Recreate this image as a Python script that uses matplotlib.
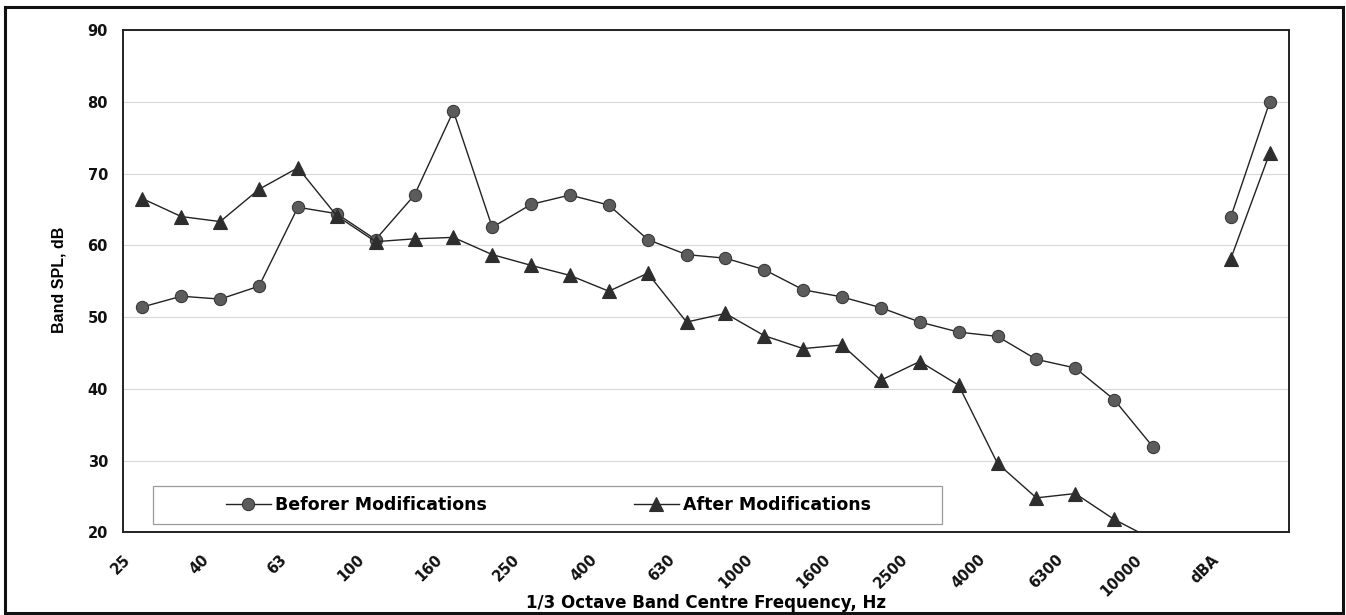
import numpy as np
import matplotlib
matplotlib.use("Agg")
import matplotlib.pyplot as plt
from matplotlib.patches import Rectangle
from matplotlib.transforms import ScaledTranslation

# ---- data ----
categories = ['25', '31.5', '40', '50', '63', '80', '100', '125', '160', '200',
              '250', '315', '400', '500', '630', '800', '1000', '1250', '1600', '2000',
              '2500', '3150', '4000', '5000', '6300', '8000', '10000', '12500', 'dBA', 'dBLin']
before = [51.4, 52.9, 52.5, 54.3, 65.3, 64.4, 60.8, 67.0, 78.7, 62.5,
          65.7, 67.0, 65.6, 60.8, 58.7, 58.2, 56.6, 53.8, 52.8, 51.3,
          49.3, 47.9, 47.3, 44.1, 42.9, 38.5, 31.9, np.nan, 63.9, 79.9]
after = [66.5, 64.0, 63.3, 67.8, 70.8, 64.1, 60.5, 60.9, 61.1, 58.7,
         57.2, 55.8, 53.6, 56.1, 49.3, 50.5, 47.4, 45.6, 46.1, 41.2,
         43.8, 40.5, 29.6, 24.8, 25.4, 21.8, 19.0, np.nan, 58.1, 72.8]
series_names = ['Beforer Modifications', 'After Modifications']
y_ticks = [20, 30, 40, 50, 60, 70, 80, 90]

W, H = 1346, 615
fig = plt.figure(figsize=(W / 100, H / 100), dpi=100)
fig.patch.set_facecolor('white')
ax = fig.add_axes([123 / W, 1 - 532.3 / H, 1166 / W, 502.3 / H])

x = np.arange(len(categories))
ax.plot(x, before, color='#222222', lw=1.0, marker='o', markersize=8.8,
        markerfacecolor='#5c5c5c', markeredgecolor='#3a3a3a', markeredgewidth=0.8,
        label=series_names[0], zorder=3)
ax.plot(x, after, color='#222222', lw=1.0, marker='^', markersize=9.5,
        markerfacecolor='#2e2e2e', markeredgecolor='#2e2e2e', markeredgewidth=0.8,
        label=series_names[1], zorder=3)

ax.set_xlim(-0.5, len(categories) - 0.5)
ax.set_ylim(20, 90)
ax.set_yticks(y_ticks)
ax.set_yticklabels([str(v) for v in y_ticks], fontfamily='DejaVu Sans',
                   fontweight='bold', fontsize=10.5)
ax.tick_params(axis='y', length=0, pad=10.8, colors='#111111')

ax.set_xticks(x[::2])
ax.set_xticklabels(categories[::2], fontfamily='DejaVu Sans', fontweight='bold',
                   fontsize=10.5, rotation=45)
ax.tick_params(axis='x', length=0, pad=18, colors='#111111')
offset = ScaledTranslation(-14 / 100, 0, fig.dpi_scale_trans)
for lab in ax.get_xticklabels():
    lab.set_rotation_mode('anchor')
    lab.set_ha('right')
    lab.set_va('center')
    lab.set_transform(lab.get_transform() + offset)

ax.yaxis.grid(True, color='#d8d8d8', lw=0.8)
ax.set_axisbelow(True)
for s in ax.spines.values():
    s.set_linewidth(1.4)
    s.set_color('#222222')

ax.set_ylabel('Band SPL, dB', fontfamily='Liberation Sans', fontweight='bold',
              fontsize=11.5)
ax.yaxis.set_label_coords((66.7 - 123) / 1166, 0.502)
ax.set_xlabel('1/3 Octave Band Centre Frequency, Hz', fontfamily='DejaVu Sans',
              fontweight='bold', fontsize=12)
ax.xaxis.set_label_coords(0.5, (532.3 - 594) / 502.3)

# legend
fs = 12.5
leg = ax.legend(loc='center', bbox_to_anchor=((548.5 - 123) / 1166, (532.3 - 505) / 502.3),
                ncol=2, frameon=False, borderpad=0,
                prop={'family': 'DejaVu Sans', 'weight': 'bold', 'size': fs},
                handlelength=2.6, handletextpad=0.25, columnspacing=8.45)
ax.add_patch(Rectangle(((153 - 123) / 1166, (532.3 - 524) / 502.3),
                       (942 - 153) / 1166, (524 - 485.7) / 502.3,
                       transform=ax.transAxes, fill=False, edgecolor='#9a9a9a',
                       lw=0.9, zorder=2))

# figure border
fig.add_artist(Rectangle((5 / W, 1 - 613 / H), (1343 - 5) / W, (613 - 7) / H,
                         transform=fig.transFigure, fill=False,
                         edgecolor='#111111', lw=2.2))

fig.savefig('out.png', dpi=100)
